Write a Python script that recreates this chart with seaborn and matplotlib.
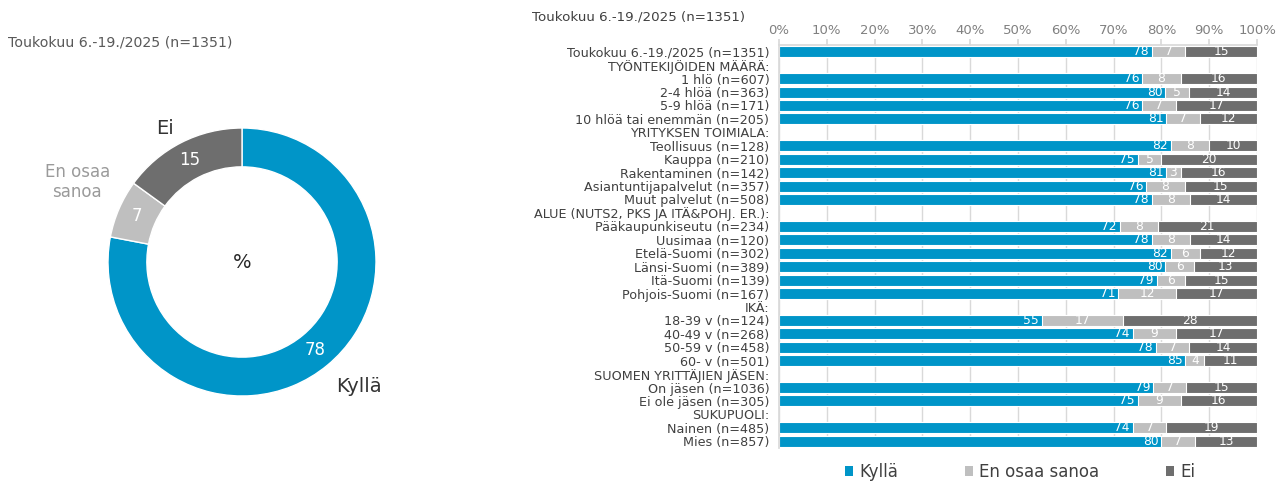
import numpy as np
import pandas as pd
import seaborn as sns
import matplotlib.pyplot as plt
from matplotlib.patches import Patch

sns.set_theme(style="white")
plt.rcParams['font.family'] = ['DejaVu Sans']

title = "Toukokuu 6.-19./2025 (n=1351)"
answers = ["Kyllä", "En osaa sanoa", "Ei"]
colors = ["#0095C8", "#BFBFBF", "#6E6E6E"]
total_values = [78, 7, 15]

labels = [
    "Toukokuu 6.-19./2025 (n=1351)", "TYÖNTEKIJÖIDEN MÄÄRÄ:",
    "1 hlö (n=607)", "2-4 hlöä (n=363)", "5-9 hlöä (n=171)", "10 hlöä tai enemmän (n=205)",
    "YRITYKSEN TOIMIALA:",
    "Teollisuus (n=128)", "Kauppa (n=210)", "Rakentaminen (n=142)",
    "Asiantuntijapalvelut (n=357)", "Muut palvelut (n=508)",
    "ALUE (NUTS2, PKS JA ITÄ&POHJ. ER.):",
    "Pääkaupunkiseutu (n=234)", "Uusimaa (n=120)", "Etelä-Suomi (n=302)",
    "Länsi-Suomi (n=389)", "Itä-Suomi (n=139)", "Pohjois-Suomi (n=167)",
    "IKÄ:",
    "18-39 v (n=124)", "40-49 v (n=268)", "50-59 v (n=458)", "60- v (n=501)",
    "SUOMEN YRITTÄJIEN JÄSEN:",
    "On jäsen (n=1036)", "Ei ole jäsen (n=305)",
    "SUKUPUOLI:",
    "Nainen (n=485)", "Mies (n=857)",
]
kylla = [78, None, 76, 80, 76, 81, None, 82, 75, 81, 76, 78, None,
         72, 78, 82, 80, 79, 71, None, 55, 74, 78, 85, None, 79, 75, None, 74, 80]
eos = [7, None, 8, 5, 7, 7, None, 8, 5, 3, 8, 8, None,
       8, 8, 6, 6, 6, 12, None, 17, 9, 7, 4, None, 7, 9, None, 7, 7]
ei = [15, None, 16, 14, 17, 12, None, 10, 20, 16, 15, 14, None,
      21, 14, 12, 13, 15, 17, None, 28, 17, 14, 11, None, 15, 16, None, 19, 13]

df = pd.DataFrame({"label": labels, "kylla": kylla, "eos": eos, "ei": ei}).dropna()
tot = df[["kylla", "eos", "ei"]].sum(axis=1)
df["c1"] = df["kylla"] / tot * 100
df["c2"] = (df["kylla"] + df["eos"]) / tot * 100
df["c3"] = 100.0

fig = plt.figure(figsize=(12.86, 4.84), dpi=100)

# ---- donut ----
axp = fig.add_axes([108 / 1286, (484 - 262 - 134) / 484, 268 / 1286, 268 / 484])
wedges, _, autotexts = axp.pie(total_values, colors=colors, startangle=90, counterclock=False,
                               radius=1, wedgeprops=dict(width=0.29, edgecolor="white", linewidth=1),
                               autopct=lambda p: f"{p:.0f}", pctdistance=0.855,
                               textprops=dict(color="white", fontsize=12))
axp.set_xlim(-1, 1)
axp.set_ylim(-1, 1)
axp.axis("off")
axp.text(0, 0, "%", ha="center", va="center", fontsize=14, color="#262626")
axp.text(0.87, -0.93, "Kyllä", ha="center", va="center", fontsize=14, color="#333333", clip_on=False)
axp.text(-0.575, 1.0, "Ei", ha="center", va="center", fontsize=14, color="#333333", clip_on=False)
axp.text(-1.23, 0.60, "En osaa\nsanoa", ha="center", va="center", fontsize=12, color="#9A9A9A",
         linespacing=1.15, clip_on=False)
fig.text(8 / 1286, 1 - 42 / 484, title, ha="left", va="center", fontsize=10.2, color="#595959")

# ---- stacked bars ----
ax = fig.add_axes([779 / 1286, 36 / 484, 478 / 1286, (448 - 45) / 484])
for col, c in zip(["c3", "c2", "c1"], colors[::-1]):
    sns.barplot(data=df, y="label", x=col, order=labels, color=c, orient="h",
                width=0.82, edgecolor="white", linewidth=0.8, errorbar=None, ax=ax, saturation=1)

ypos = {lab: i for i, lab in enumerate(labels)}
for _, r in df.iterrows():
    y = ypos[r["label"]]
    ax.text(r["c1"] - 0.6, y, f"{r['kylla']:.0f}", ha="right", va="center", color="white", fontsize=8.8)
    ax.text((r["c1"] + r["c2"]) / 2, y, f"{r['eos']:.0f}", ha="center", va="center", color="white", fontsize=8.8)
    ax.text((r["c2"] + 100) / 2, y, f"{r['ei']:.0f}", ha="center", va="center", color="white", fontsize=8.8)

ax.set_xlim(0, 100)
ax.set_ylim(len(labels) - 0.5, -0.5)
ax.set_xticks(np.arange(0, 101, 10))
ax.set_xticklabels([f"{v}%" for v in range(0, 101, 10)])
ax.xaxis.tick_top()
ax.tick_params(axis="x", colors="#808080", labelsize=9.5, length=4, color="#D9D9D9", pad=2)
ax.tick_params(axis="y", length=0, pad=7, labelsize=9.2, labelcolor="#404040")
ax.xaxis.grid(True, color="#D9D9D9", linewidth=1)
ax.set_axisbelow(True)
ax.set_xlabel("")
ax.set_ylabel("")
for s in ["right", "bottom"]:
    ax.spines[s].set_visible(False)
for s in ["top", "left"]:
    ax.spines[s].set_color("#D9D9D9")
fig.text(532 / 1286, 1 - 17 / 484, title, ha="left", va="center", fontsize=9.6, color="#404040")

handles = [Patch(facecolor=c, edgecolor="none") for c in colors]
fig.legend(handles, answers, loc="center", bbox_to_anchor=(1020 / 1286, 1 - 472 / 484), ncol=3,
           frameon=False, fontsize=12, handlelength=0.5, handleheight=0.5, handletextpad=0.35,
           columnspacing=4.0, labelcolor="#404040")

fig.savefig("out.png", dpi=100)
